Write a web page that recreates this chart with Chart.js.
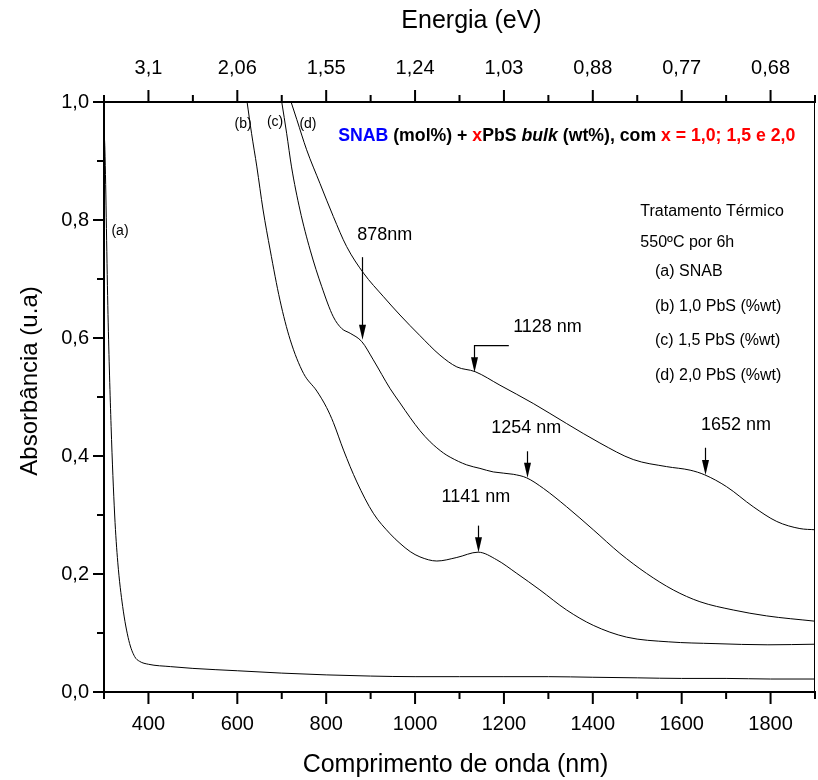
<!DOCTYPE html>
<html><head><meta charset="utf-8">
<script src="https://cdn.jsdelivr.net/npm/chart.js@4.4.0/dist/chart.umd.min.js"></script>
<style>html,body{margin:0;padding:0;background:#fff;}</style>
</head><body>
<canvas id="c" width="818" height="780"></canvas>
<script>
// ---- data ----
const nmA  = [300, 302, 309, 316, 324, 331, 342, 356, 369, 380, 400, 450, 500, 600, 700, 800, 900, 1000, 1100, 1200, 1300, 1400, 1500, 1600, 1700, 1800, 1900];
const absA = [0.95, 0.92, 0.64, 0.45, 0.30, 0.22, 0.145, 0.087, 0.060, 0.052, 0.047, 0.043, 0.040, 0.036, 0.032, 0.029, 0.027, 0.026, 0.026, 0.026, 0.026, 0.025, 0.024, 0.023, 0.023, 0.022, 0.022];

const nmB  = [622, 632, 644, 658, 674, 696, 719, 749, 779, 801, 816, 839, 869, 906, 944, 966, 989, 1011, 1049, 1094, 1142, 1184, 1229, 1281, 1341, 1401, 1476, 1571, 1675, 1794, 1900];
const absB = [1.0, 0.947, 0.890, 0.817, 0.749, 0.664, 0.597, 0.540, 0.510, 0.482, 0.457, 0.410, 0.356, 0.303, 0.268, 0.252, 0.238, 0.229, 0.222, 0.228, 0.237, 0.224, 0.201, 0.173, 0.139, 0.113, 0.093, 0.085, 0.082, 0.080, 0.081];

const nmC  = [700, 711, 722, 741, 764, 790, 816, 835, 854, 880, 906, 944, 966, 989, 1011, 1034, 1064, 1079, 1116, 1146, 1176, 1221, 1251, 1289, 1341, 1401, 1461, 1521, 1581, 1641, 1716, 1791, 1900];
const absC = [1.0, 0.947, 0.890, 0.817, 0.749, 0.687, 0.636, 0.616, 0.608, 0.594, 0.563, 0.514, 0.490, 0.465, 0.443, 0.424, 0.405, 0.398, 0.385, 0.379, 0.373, 0.369, 0.363, 0.345, 0.314, 0.275, 0.235, 0.201, 0.173, 0.153, 0.139, 0.129, 0.120];

const nmD  = [721, 734, 756, 786, 816, 846, 884, 929, 966, 1011, 1056, 1094, 1135, 1191, 1266, 1341, 1416, 1491, 1566, 1619, 1652, 1701, 1761, 1814, 1866, 1900];
const absD = [1.0, 0.970, 0.919, 0.862, 0.806, 0.755, 0.710, 0.670, 0.639, 0.604, 0.571, 0.551, 0.543, 0.520, 0.489, 0.455, 0.422, 0.394, 0.382, 0.376, 0.368, 0.348, 0.314, 0.289, 0.277, 0.275];

const xTickLabels = [400, 600, 800, 1000, 1200, 1400, 1600, 1800];
const energyLabels = ['3,1', '2,06', '1,55', '1,24', '1,03', '0,88', '0,77', '0,68'];
const yTickLabels = ['0,0', '0,2', '0,4', '0,6', '0,8', '1,0'];

const curveNames = ['(a)', '(b)', '(c)', '(d)'];
const peakNotes = ['878nm', '1128 nm', '1254 nm', '1652 nm', '1141 nm'];
const legendLines = ['Tratamento Térmico', '550ºC por 6h', '(a) SNAB', '(b) 1,0 PbS (%wt)', '(c) 1,5 PbS (%wt)', '(d) 2,0 PbS (%wt)'];

// ---- placement of the texts / arrows (in data coordinates) ----
const curveNamePos = [[336, 0.781], [613, 0.963], [685, 0.966], [759, 0.963]];
const notePos = [
  {tx: 932, ty: 0.775, ax: 880, from: 0.737, to: 0.597},
  {tx: 1298, ty: 0.619, ax: 1133, from: 0.587, to: 0.542, elbow: 1211},
  {tx: 1250, ty: 0.447, ax: 1251, from: 0.408, to: 0.363},
  {tx: 1722, ty: 0.453, ax: 1652, from: 0.414, to: 0.368},
  {tx: 1137, ty: 0.331, ax: 1142, from: 0.282, to: 0.237}
];
const legendPos = [[1507, 0.815], [1507, 0.761], [1540, 0.712], [1540, 0.653], [1540, 0.595], [1540, 0.537]];

const SANS = '"Liberation Sans", Arial, sans-serif';
const tickFont = {family: SANS, size: 20};

const toPts = (xs, ys) => xs.map((v, i) => ({x: v, y: ys[i]}));
const mk = (xs, ys) => ({data: toPts(xs, ys), borderColor: '#000', borderWidth: 1, pointRadius: 0,
  cubicInterpolationMode: 'monotone', fill: false});

const isMajorX = v => v % 200 === 0;
const isMajorY = v => Math.round(v * 10) % 2 === 0;
const noSidePad = s => { s.paddingLeft = 0; s.paddingRight = 0; };

const decor = {
  id: 'decor',
  afterDraw(chart) {
    const ctx = chart.ctx, ca = chart.chartArea;
    const sx = chart.scales.x, sx2 = chart.scales.x2, sy = chart.scales.y;
    ctx.save();
    ctx.strokeStyle = '#000'; ctx.fillStyle = '#000';
    // tick marks
    ctx.lineWidth = 2;
    ctx.beginPath();
    sx.ticks.forEach(t => { const p = sx.getPixelForValue(t.value); const L = isMajorX(t.value) ? 12 : 7;
      ctx.moveTo(p, ca.bottom); ctx.lineTo(p, ca.bottom + L); });
    sx2.ticks.forEach(t => { const p = sx2.getPixelForValue(t.value); const L = isMajorX(t.value) ? 12 : 7;
      ctx.moveTo(p, ca.top); ctx.lineTo(p, ca.top - L); });
    sy.ticks.forEach(t => { const p = sy.getPixelForValue(t.value); const L = isMajorY(t.value) ? 11 : 7;
      ctx.moveTo(ca.left, p); ctx.lineTo(ca.left - L, p); });
    ctx.stroke();
    // right frame
    ctx.lineWidth = 1;
    ctx.beginPath(); ctx.moveTo(ca.right - 0.5, ca.top); ctx.lineTo(ca.right - 0.5, ca.bottom); ctx.stroke();

    // axis titles
    ctx.textAlign = 'center'; ctx.textBaseline = 'alphabetic';
    ctx.font = '25px ' + SANS;
    ctx.fillText('Comprimento de onda (nm)', (ca.left + ca.right) / 2 - 4, ca.bottom + 80);
    ctx.fillText('Energia (eV)', (ca.left + ca.right) / 2 + 12, 28);
    ctx.save();
    ctx.translate(37, 381); ctx.rotate(-Math.PI / 2);
    ctx.font = '24px ' + SANS;
    ctx.fillText('Absorbância (u.a)', 0, 0);
    ctx.restore();

    // curve names
    ctx.font = '14px ' + SANS; ctx.textBaseline = 'middle'; ctx.textAlign = 'center';
    curveNames.forEach((s, i) => ctx.fillText(s, sx.getPixelForValue(curveNamePos[i][0]), sy.getPixelForValue(curveNamePos[i][1])));

    // peak notes with arrows
    ctx.font = '18px ' + SANS;
    peakNotes.forEach((s, i) => {
      const a = notePos[i];
      ctx.fillText(s, sx.getPixelForValue(a.tx), sy.getPixelForValue(a.ty));
      const px = Math.round(sx.getPixelForValue(a.ax)) + 0.5;
      const y0 = sy.getPixelForValue(a.from), y1 = sy.getPixelForValue(a.to);
      ctx.lineWidth = 1.2;
      ctx.beginPath();
      if (a.elbow) { ctx.moveTo(sx.getPixelForValue(a.elbow), y0); ctx.lineTo(px, y0); }
      else ctx.moveTo(px, y0);
      ctx.lineTo(px, y1 - 10);
      ctx.stroke();
      ctx.beginPath(); ctx.moveTo(px - 3.5, y1 - 15); ctx.lineTo(px + 3.5, y1 - 15); ctx.lineTo(px, y1); ctx.closePath(); ctx.fill();
    });

    // legend text block
    ctx.font = '16px ' + SANS; ctx.textAlign = 'left';
    legendLines.forEach((s, i) => ctx.fillText(s, sx.getPixelForValue(legendPos[i][0]), sy.getPixelForValue(legendPos[i][1])));

    // composition title, multicolour
    const segs = [
      ['SNAB', '#0000ff', 'bold'], [' (mol%) + ', '#000', 'bold'], ['x', '#ff0000', 'bold'],
      ['PbS ', '#000', 'bold'], ['bulk', '#000', 'italic bold'], [' (wt%), com ', '#000', 'bold'],
      ['x = 1,0; 1,5 e 2,0', '#ff0000', 'bold']];
    let cx = sx.getPixelForValue(827); const cy = sy.getPixelForValue(0.942);
    segs.forEach(([t, col, st]) => {
      ctx.font = st + ' 17.7px ' + SANS; ctx.fillStyle = col;
      ctx.fillText(t, cx, cy); cx += ctx.measureText(t).width;
    });
    ctx.restore();
  }
};

new Chart(document.getElementById('c'), {
  type: 'line',
  data: {datasets: [mk(nmA, absA), mk(nmB, absB), mk(nmC, absC), mk(nmD, absD)]},
  options: {
    responsive: false, animation: false,
    layout: {padding: {left: 0, right: 3, top: 0, bottom: 0}},
    plugins: {legend: {display: false}, tooltip: {enabled: false}},
    scales: {
      x: {type: 'linear', position: 'bottom', min: 300, max: 1900,
        grid: {display: false, drawTicks: false}, border: {display: true, color: '#000', width: 2},
        ticks: {stepSize: 100, autoSkip: false, maxRotation: 0, padding: 20, color: '#000', font: tickFont,
          callback: v => xTickLabels.includes(v) ? String(v) : ''},
        afterFit: s => { s.height = 88; noSidePad(s); }},
      x2: {type: 'linear', position: 'top', min: 300, max: 1900,
        grid: {display: false, drawTicks: false}, border: {display: true, color: '#000', width: 2},
        ticks: {stepSize: 100, autoSkip: false, maxRotation: 0, padding: 22, color: '#000', font: tickFont,
          callback: v => { const k = xTickLabels.indexOf(v); return k >= 0 ? energyLabels[k] : ''; }},
        afterFit: s => { s.height = 102; noSidePad(s); }},
      y: {type: 'linear', position: 'left', min: 0, max: 1,
        grid: {display: false, drawTicks: false}, border: {display: true, color: '#000', width: 2},
        ticks: {stepSize: 0.1, autoSkip: false, padding: 15, color: '#000', font: tickFont,
          callback: v => isMajorY(v) ? yTickLabels[Math.round(v * 5)] : ''},
        afterFit: s => { s.width = 104; }}
    }
  },
  plugins: [decor]
});
</script>
</body></html>
